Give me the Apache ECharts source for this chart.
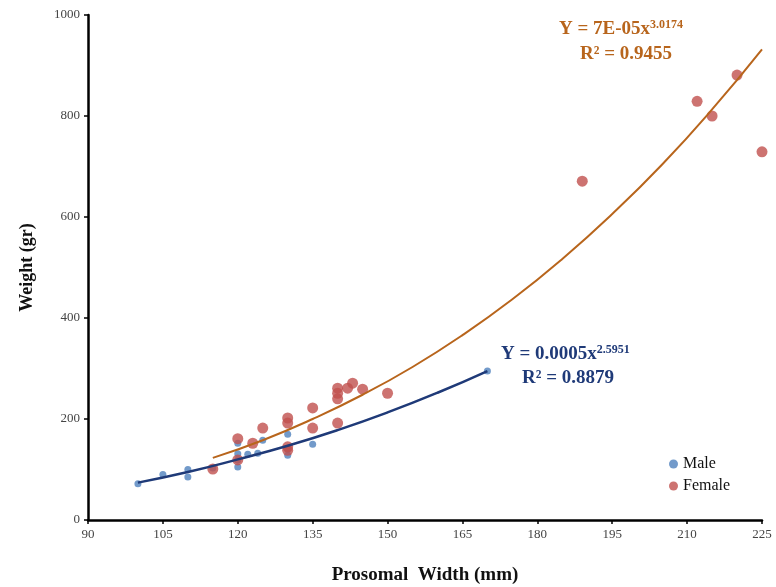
<!DOCTYPE html>
<html>
<head>
<meta charset="utf-8">
<script src="https://cdn.jsdelivr.net/npm/echarts@6/dist/echarts.min.js"></script>
<style>
  html, body { margin: 0; padding: 0; background: #fff; }
  #chart { width: 776px; height: 587px; }
</style>
</head>
<body>
<div id="chart"></div>
<script>
// points: [width mm, weight gr]
var male_points = [
    [100, 72], [105, 90], [110, 100], [110, 85], [115, 103],
    [120, 152], [120, 131], [120, 119], [120, 105],
    [122, 130], [124, 132], [125, 158],
    [130, 170], [130, 140], [130, 128], [135, 150], [170, 295]
];
var female_points = [
    [115, 101], [120, 161], [120, 119], [123, 152], [125, 182],
    [130, 202], [130, 192], [130, 145], [130, 138],
    [135, 222], [135, 182],
    [140, 261], [140, 251], [140, 240], [140, 192],
    [142, 261], [143, 271], [145, 259], [150, 251],
    [189, 671], [212, 829], [215, 800], [220, 881], [225, 729]
];

// trend lines as drawn
var male_trend = [
    [100, 74], [110, 95], [120, 120], [130, 147],
    [140, 178], [150, 213], [160, 252], [170, 295]
];
var female_trend = [
    [115, 123], [125, 158], [135, 200], [145, 248], [155, 303], [165, 366],
    [175, 437], [185, 517], [195, 606], [205, 704], [215, 813], [225, 932]
];

var x_ticks = { min: 90, max: 225, step: 15 };
var y_ticks = { min: 0, max: 1000, step: 200 };

var serif = '"Liberation Serif", "DejaVu Serif", serif';

var chart = echarts.init(document.getElementById('chart'));

var option = {
    animation: false,
    backgroundColor: '#ffffff',
    grid: {
        left: 88,
        right: 14,
        top: 15,
        bottom: 67,
        containLabel: false,
        outerBoundsMode: 'none'
    },
    legend: {
        orient: 'vertical',
        left: 664,
        top: 451,
        itemGap: 6,
        itemWidth: 9,
        itemHeight: 9,
        icon: 'circle',
        data: [
            { name: 'Male', itemStyle: { color: '#4f81bd' } },
            { name: 'Female', itemStyle: { color: '#c0504d' } }
        ],
        textStyle: { fontFamily: serif, fontSize: 16, color: '#111' }
    },
    xAxis: {
        type: 'value',
        min: x_ticks.min,
        max: x_ticks.max,
        interval: x_ticks.step,
        name: 'Prosomal  Width (mm)',
        nameLocation: 'center',
        nameGap: 46,
        nameTextStyle: { fontFamily: serif, fontSize: 19, fontWeight: 'bold', color: '#111' },
        axisLine: { lineStyle: { color: '#000', width: 2.5 } },
        axisTick: { show: true, length: 4, lineStyle: { color: '#000', width: 1.5 } },
        axisLabel: { fontFamily: serif, fontSize: 13, color: '#444', margin: 8 },
        splitLine: { show: false }
    },
    yAxis: {
        type: 'value',
        min: y_ticks.min,
        max: y_ticks.max,
        interval: y_ticks.step,
        name: 'Weight (gr)',
        nameLocation: 'center',
        nameGap: 52,
        nameRotate: 90,
        nameTextStyle: { fontFamily: serif, fontSize: 18, fontWeight: 'bold', color: '#111' },
        axisLine: { show: true, lineStyle: { color: '#000', width: 2.5 } },
        axisTick: { show: true, length: 4, lineStyle: { color: '#000', width: 1.5 } },
        axisLabel: {
            fontFamily: serif, fontSize: 13, color: '#444', margin: 8,
            formatter: function(v) { return String(v); }
        },
        splitLine: { show: false }
    },
    series: [
        {
            name: 'Male',
            type: 'scatter',
            symbolSize: 7,
            itemStyle: { color: '#4f81bd' },
            data: male_points,
            z: 2
        },
        {
            name: 'Female',
            type: 'scatter',
            symbolSize: 11,
            itemStyle: { color: '#c0504d' },
            data: female_points,
            z: 2
        },
        {
            name: 'Male trend',
            type: 'line',
            smooth: true,
            showSymbol: false,
            lineStyle: { color: '#1f3a78', width: 2.5 },
            data: male_trend,
            z: 3
        },
        {
            name: 'Female trend',
            type: 'line',
            smooth: true,
            showSymbol: false,
            lineStyle: { color: '#b8651c', width: 2 },
            data: female_trend,
            z: 3
        }
    ],
    graphic: [
        {
            type: 'text',
            left: 559,
            top: 19,
            style: {
                text: '{b|Y = 7E-05x}{s|3.0174}',
                rich: {
                    b: { fontFamily: serif, fontSize: 19, fontWeight: 'bold', fill: '#b8651c' },
                    s: { fontFamily: serif, fontSize: 12, fontWeight: 'bold', fill: '#b8651c', verticalAlign: 'top', padding: [0, 0, 9, 0] }
                }
            }
        },
        {
            type: 'text',
            left: 580,
            top: 45,
            style: {
                text: 'R² = 0.9455',
                fontFamily: serif, fontSize: 19, fontWeight: 'bold', fill: '#b8651c'
            }
        },
        {
            type: 'text',
            left: 501,
            top: 344,
            style: {
                text: '{b|Y = 0.0005x}{s|2.5951}',
                rich: {
                    b: { fontFamily: serif, fontSize: 19, fontWeight: 'bold', fill: '#1f3a78' },
                    s: { fontFamily: serif, fontSize: 12, fontWeight: 'bold', fill: '#1f3a78', verticalAlign: 'top', padding: [0, 0, 9, 0] }
                }
            }
        },
        {
            type: 'text',
            left: 522,
            top: 369,
            style: {
                text: 'R² = 0.8879',
                fontFamily: serif, fontSize: 19, fontWeight: 'bold', fill: '#1f3a78'
            }
        }
    ]
};

chart.setOption(option);
</script>
</body>
</html>
